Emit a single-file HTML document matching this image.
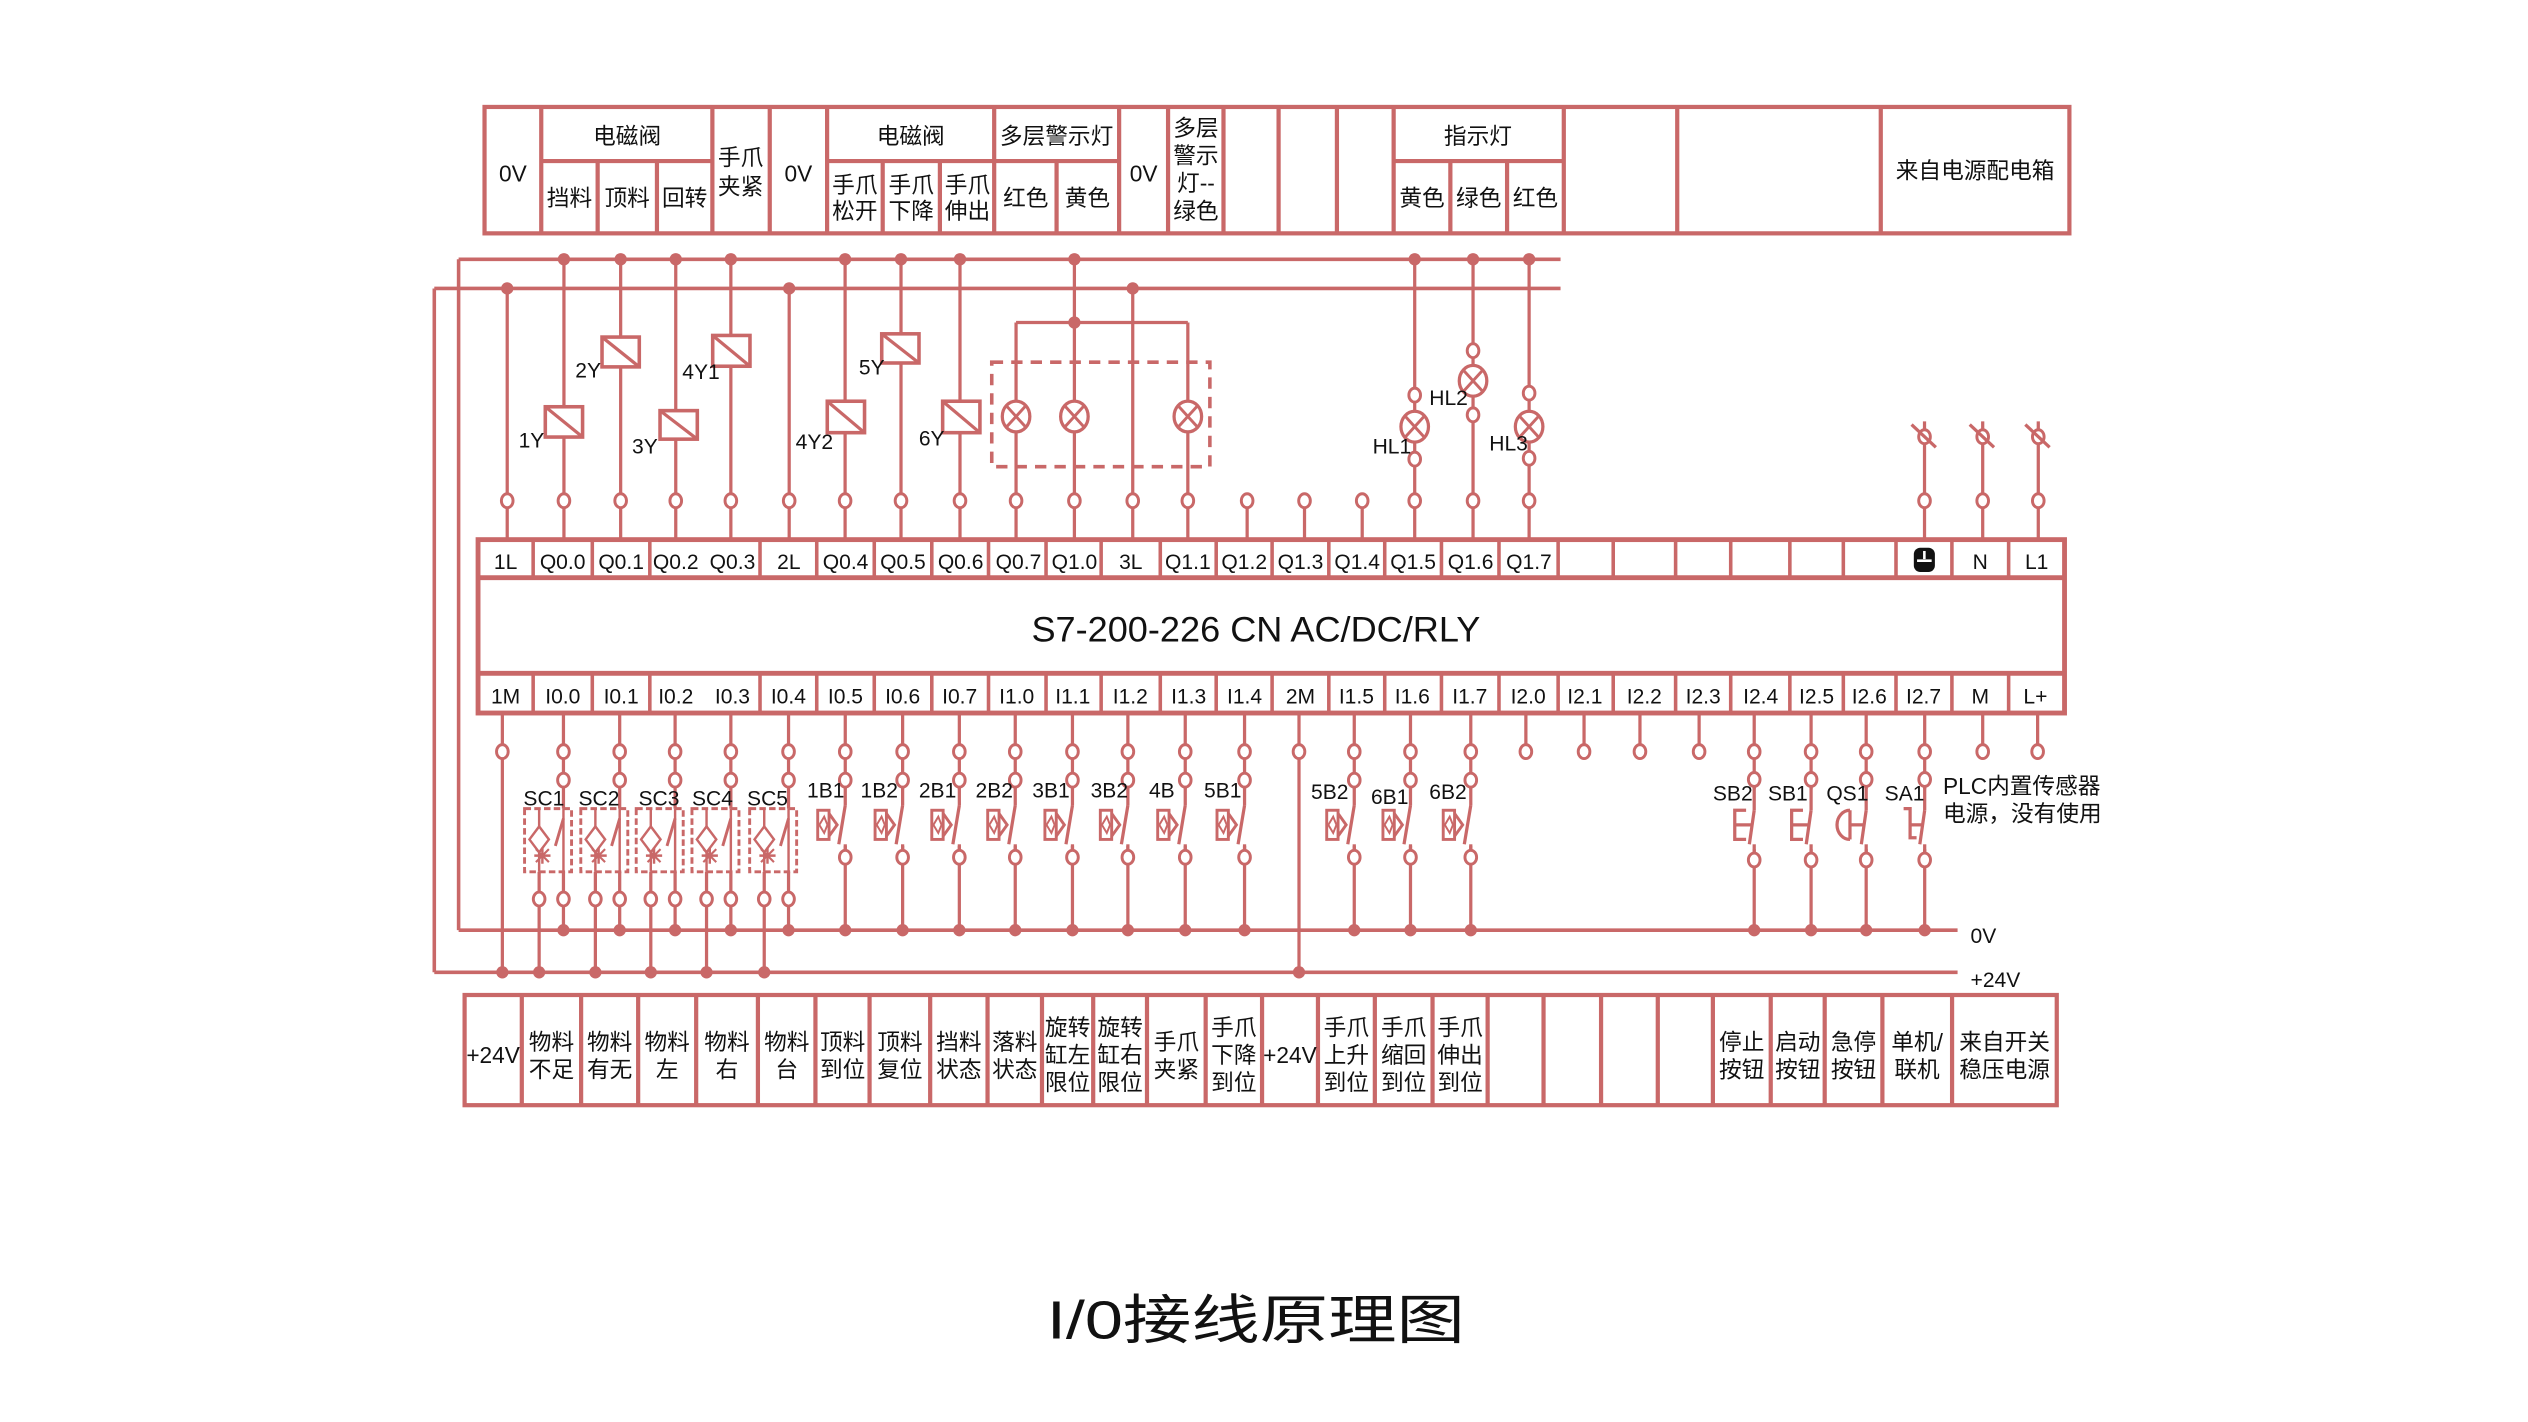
<!DOCTYPE html>
<html><head><meta charset="utf-8"><style>
html,body{margin:0;padding:0;background:#fff;}
svg{display:block;}
text{font-family:"Liberation Sans Narrow","Liberation Sans","Noto Sans CJK SC",sans-serif;fill:#111;}
.cn{font-family:"Liberation Sans Narrow","Liberation Sans","Noto Sans CJK SC",sans-serif;font-size:14px;}
.t{font-size:13px;text-anchor:middle;}
.m{text-anchor:middle;}
.l{font-size:13px;}
</style></head><body>
<svg id="s" width="2528" height="1422" viewBox="0 0 1560 877.5" preserveAspectRatio="none" xmlns="http://www.w3.org/2000/svg">
<g id="g" stroke="#c96868" fill="none" stroke-width="2"></g>
<g id="txt">
<text class="cn m" x="316.5" y="112">0V</text>
<text class="cn m" x="387" y="89">电磁阀</text>
<text class="cn m" x="351.4" y="127">挡料</text>
<text class="cn m" x="387" y="127">顶料</text>
<text class="cn m" x="422.5" y="127">回转</text>
<text class="cn m" x="457" y="102">手爪</text>
<text class="cn m" x="457" y="120">夹紧</text>
<text class="cn m" x="492.7" y="112">0V</text>
<text class="cn m" x="562" y="89">电磁阀</text>
<text class="cn m" x="527.5" y="119">手爪</text>
<text class="cn m" x="527.5" y="135">松开</text>
<text class="cn m" x="562.3" y="119">手爪</text>
<text class="cn m" x="562.3" y="135">下降</text>
<text class="cn m" x="597" y="119">手爪</text>
<text class="cn m" x="597" y="135">伸出</text>
<text class="cn m" x="652" y="89">多层警示灯</text>
<text class="cn m" x="633" y="127">红色</text>
<text class="cn m" x="671" y="127">黄色</text>
<text class="cn m" x="705.7" y="112">0V</text>
<text class="cn m" x="738" y="84">多层</text>
<text class="cn m" x="738" y="101">警示</text>
<text class="cn m" x="738" y="118">灯--</text>
<text class="cn m" x="738" y="135">绿色</text>
<text class="cn m" x="912" y="89">指示灯</text>
<text class="cn m" x="877.5" y="127">黄色</text>
<text class="cn m" x="912.5" y="127">绿色</text>
<text class="cn m" x="947.5" y="127">红色</text>
<text class="cn m" x="1218.8" y="110">来自电源配电箱</text>
<text class="l" x="320" y="276">1Y</text>
<text class="l" x="355" y="233">2Y</text>
<text class="l" x="390" y="280">3Y</text>
<text class="l" x="421" y="234">4Y1</text>
<text class="l" x="491" y="277">4Y2</text>
<text class="l" x="530" y="231">5Y</text>
<text class="l" x="567" y="275">6Y</text>
<text class="l" x="847" y="280">HL1</text>
<text class="l" x="882" y="250">HL2</text>
<text class="l" x="919" y="278">HL3</text>
<text class="t" x="312" y="351">1L</text><text class="t" x="347.2" y="351">Q0.0</text><text class="t" x="383.3" y="351">Q0.1</text><text class="t" x="417" y="351">Q0.2</text><text class="t" x="452" y="351">Q0.3</text><text class="t" x="486.8" y="351">2L</text><text class="t" x="521.8" y="351">Q0.4</text><text class="t" x="557.2" y="351">Q0.5</text><text class="t" x="592.8" y="351">Q0.6</text><text class="t" x="628.5" y="351">Q0.7</text><text class="t" x="663" y="351">Q1.0</text><text class="t" x="697.8" y="351">3L</text><text class="t" x="733" y="351">Q1.1</text><text class="t" x="767.8" y="351">Q1.2</text><text class="t" x="802.5" y="351">Q1.3</text><text class="t" x="837.5" y="351">Q1.4</text><text class="t" x="872" y="351">Q1.5</text><text class="t" x="907.5" y="351">Q1.6</text><text class="t" x="943.5" y="351">Q1.7</text><text class="t" x="1222" y="351">N</text><text class="t" x="1256.8" y="351">L1</text>
<text x="775" y="396" text-anchor="middle" font-size="22" textLength="277" lengthAdjust="spacingAndGlyphs">S7-200-226 CN AC/DC/RLY</text>
<text class="t" x="312" y="434">1M</text><text class="t" x="347.3" y="434">I0.0</text><text class="t" x="383.3" y="434">I0.1</text><text class="t" x="417" y="434">I0.2</text><text class="t" x="452" y="434">I0.3</text><text class="t" x="486.5" y="434">I0.4</text><text class="t" x="521.7" y="434">I0.5</text><text class="t" x="557" y="434">I0.6</text><text class="t" x="592.2" y="434">I0.7</text><text class="t" x="627.4" y="434">I1.0</text><text class="t" x="662" y="434">I1.1</text><text class="t" x="697.5" y="434">I1.2</text><text class="t" x="733.5" y="434">I1.3</text><text class="t" x="768" y="434">I1.4</text><text class="t" x="802.5" y="434">2M</text><text class="t" x="837" y="434">I1.5</text><text class="t" x="871.5" y="434">I1.6</text><text class="t" x="907" y="434">I1.7</text><text class="t" x="943" y="434">I2.0</text><text class="t" x="978" y="434">I2.1</text><text class="t" x="1014.7" y="434">I2.2</text><text class="t" x="1051" y="434">I2.3</text><text class="t" x="1086.5" y="434">I2.4</text><text class="t" x="1121" y="434">I2.5</text><text class="t" x="1153.5" y="434">I2.6</text><text class="t" x="1187" y="434">I2.7</text><text class="t" x="1222" y="434">M</text><text class="t" x="1256" y="434">L+</text>
<text class="l" x="323" y="497">SC1</text><text class="l" x="357" y="497">SC2</text><text class="l" x="394" y="497">SC3</text><text class="l" x="427" y="497">SC4</text><text class="l" x="461" y="497">SC5</text>
<text class="l" x="498" y="492">1B1</text><text class="l" x="531" y="492">1B2</text><text class="l" x="567" y="492">2B1</text><text class="l" x="602" y="492">2B2</text><text class="l" x="637" y="492">3B1</text><text class="l" x="673" y="492">3B2</text><text class="l" x="709" y="492">4B</text><text class="l" x="743" y="492">5B1</text><text class="l" x="809" y="493">5B2</text><text class="l" x="846" y="496">6B1</text><text class="l" x="882" y="493">6B2</text>
<text class="l" x="1057" y="494">SB2</text><text class="l" x="1091" y="494">SB1</text><text class="l" x="1127" y="494">QS1</text><text class="l" x="1163" y="494">SA1</text>
<text class="cn" x="1199" y="490">PLC内置传感器</text>
<text class="cn" x="1199" y="507">电源，没有使用</text>
<text class="l" x="1216" y="582">0V</text>
<text class="l" x="1216" y="609">+24V</text>
<text class="cn m" x="304.3" y="656" font-size="13">+24V</text>
<text class="cn m" x="340.3" y="648">物料</text><text class="cn m" x="340.3" y="665">不足</text>
<text class="cn m" x="376.2" y="648">物料</text><text class="cn m" x="376.2" y="665">有无</text>
<text class="cn m" x="411.7" y="648">物料</text><text class="cn m" x="411.7" y="665">左</text>
<text class="cn m" x="448.6" y="648">物料</text><text class="cn m" x="448.6" y="665">右</text>
<text class="cn m" x="485.5" y="648">物料</text><text class="cn m" x="485.5" y="665">台</text>
<text class="cn m" x="520" y="648">顶料</text><text class="cn m" x="520" y="665">到位</text>
<text class="cn m" x="555.3" y="648">顶料</text><text class="cn m" x="555.3" y="665">复位</text>
<text class="cn m" x="591.7" y="648">挡料</text><text class="cn m" x="591.7" y="665">状态</text>
<text class="cn m" x="626.2" y="648">落料</text><text class="cn m" x="626.2" y="665">状态</text>
<text class="cn m" x="658.8" y="639">旋转</text><text class="cn m" x="658.8" y="656">缸左</text><text class="cn m" x="658.8" y="673">限位</text>
<text class="cn m" x="691.2" y="639">旋转</text><text class="cn m" x="691.2" y="656">缸右</text><text class="cn m" x="691.2" y="673">限位</text>
<text class="cn m" x="725.9" y="648">手爪</text><text class="cn m" x="725.9" y="665">夹紧</text>
<text class="cn m" x="761.4" y="639">手爪</text><text class="cn m" x="761.4" y="656">下降</text><text class="cn m" x="761.4" y="673">到位</text>
<text class="cn m" x="796" y="656" font-size="13">+24V</text>
<text class="cn m" x="830.8" y="639">手爪</text><text class="cn m" x="830.8" y="656">上升</text><text class="cn m" x="830.8" y="673">到位</text>
<text class="cn m" x="866.2" y="639">手爪</text><text class="cn m" x="866.2" y="656">缩回</text><text class="cn m" x="866.2" y="673">到位</text>
<text class="cn m" x="901" y="639">手爪</text><text class="cn m" x="901" y="656">伸出</text><text class="cn m" x="901" y="673">到位</text>
<text class="cn m" x="1074.8" y="648">停止</text><text class="cn m" x="1074.8" y="665">按钮</text>
<text class="cn m" x="1109.4" y="648">启动</text><text class="cn m" x="1109.4" y="665">按钮</text>
<text class="cn m" x="1143.8" y="648">急停</text><text class="cn m" x="1143.8" y="665">按钮</text>
<text class="cn m" x="1183" y="648">单机/</text><text class="cn m" x="1183" y="665">联机</text>
<text class="cn m" x="1237" y="648">来自开关</text><text class="cn m" x="1237" y="665">稳压电源</text>
<text x="775" y="826" text-anchor="middle" font-size="33" fill="#333" textLength="258" lengthAdjust="spacingAndGlyphs" style="font-family:'Liberation Sans','Noto Sans CJK SC',sans-serif">I/0接线原理图</text>
</g>
</svg>
<script>
(function(){
var g=document.getElementById('g'),NS='http://www.w3.org/2000/svg';
function el(n,a){var e=document.createElementNS(NS,n);for(var k in a)e.setAttribute(k,a[k]);g.appendChild(e);return e;}
function L(x1,y1,x2,y2,w){el('line',{x1:x1,y1:y1,x2:x2,y2:y2,'stroke-width':w||2});}
function dot(x,y){el('circle',{cx:x,cy:y,r:3.8,fill:'#c96868',stroke:'none'});}
function oc(x,y){el('ellipse',{cx:x,cy:y,rx:3.6,ry:4.3,fill:'#fff','stroke-width':1.8});}
function R(x,y,w,h,sw,f,da){var a={x:x,y:y,width:w,height:h,'stroke-width':sw||2.5,fill:f||'none'};if(da)a['stroke-dasharray']=da;el('rect',a);}
var TW=2.6;
R(299,66,978,78,TW);
[334,439.6,475,510.4,613.5,690.6,720.8,755,789,825,860,965,1035,1160.6].forEach(function(x){L(x,66,x,144,TW);});
L(334,99.4,439.6,99.4,TW);L(510.4,99.4,690.6,99.4,TW);L(860,99.4,965,99.4,TW);
[368.8,405.4,544.7,580,652,895,930].forEach(function(x){L(x,99.4,x,144,TW);});
L(283,160,963,160,2.2);L(268,178,963,178,2.2);
L(283,160,283,574,2.2);L(268,178,268,600,2.2);
L(283,574,1208,574,2.2);L(268,600,1208,600,2.2);
[313,487,699].forEach(function(x){L(x,178,x,333);dot(x,178);});
[348,383,417,451,521.5,556,592.4,663,873,909,943.6].forEach(function(x){L(x,160,x,333);dot(x,160);});
L(627,199,733,199);dot(663,199);L(627,199,627,333);L(733,199,733,333);
[769.6,805,840.6].forEach(function(x){L(x,309,x,333);});
[1187.6,1223.5,1257.8].forEach(function(x){L(x,260,x,333);});
[313,348,383,417,451,487,521.5,556,592.4,627,663,699,733,769.6,805,840.6,873,909,943.6,1187.6,1223.5,1257.8].forEach(function(x){oc(x,309);});
function coil(cx,y1,y2){var w=23;R(cx-w/2,y1,w,y2-y1,2.2,'#fff');L(cx-w/2,y1,cx+w/2,y2,2);}
coil(348,251,269.7);coil(383,208,226.4);coil(418.8,253.4,271);coil(451.3,207,226);coil(522,247.6,267);coil(555.6,206,224);coil(593.2,247.6,267);
function lamp(x,y){el('ellipse',{cx:x,cy:y,rx:8.5,ry:9.5,fill:'#fff','stroke-width':2});var d=6;L(x-d,y-d*1.1,x+d,y+d*1.1,1.8);L(x-d,y+d*1.1,x+d,y-d*1.1,1.8);}
R(612,223.5,134.6,64.5,2.2,'none','7,5');
lamp(627,257);lamp(663,257);lamp(733,257);
lamp(873,263.3);oc(873,243.8);oc(873,283.3);
lamp(909,235);oc(909,216.4);oc(909,256);
lamp(943.6,263.3);oc(943.6,242.6);oc(943.6,282.8);
[1187.6,1223.5,1257.8].forEach(function(x){oc(x,269.5);L(x-8,262,x+7,276,2);});
R(295,333,979,107,3);L(295,356.5,1274,356.5,3);L(295,415.5,1274,415.5,3);
[329,365.5,401,469,504,539.5,575,610,645.5,679.5,716,750.5,785,820,854.5,889.5,925,961.5,995.5,1034,1068,1104.5,1137.5,1170,1204.5,1239.5].forEach(function(x){L(x,333,x,356.5,2.2);L(x,415.5,x,440,2.2);});
el('rect',{x:1181,y:338,width:13,height:15,rx:4,fill:'#111',stroke:'none'});
el('line',{x1:1183,y1:346,x2:1192,y2:346,stroke:'#fff','stroke-width':1.6});
el('line',{x1:1187.5,y1:340,x2:1187.5,y2:345,stroke:'#fff','stroke-width':1.6});
[941.6,977.5,1012,1048.5,1223.5,1257.4].forEach(function(x){L(x,440,x,460);oc(x,463.8);});
[310,801.6].forEach(function(x){L(x,440,x,600);oc(x,463.8);dot(x,600);});
[347.7,382.4,416.6,451,486.6].forEach(function(s){var l=s-15;
 L(s,440,s,574);oc(s,463.8);oc(s,481.4);dot(s,574);
 L(l,520,l,600);dot(l,600);
 R(l-9,499,s-l+14,39,1.8,'#fff','4,2');
 L(l,499,l,538,1.5);L(s,499,s,538,1.5);
 el('polygon',{points:(l-6)+',518 '+l+',510 '+(l+6)+',518 '+l+',526','stroke-width':1.5,fill:'#fff'});
 L(s,505,s-5,522,1.8);L(l-3,528,l+7,528,1.5);L(l+2,523,l+2,533,1.5);L(l-2,524,l+6,532,1.3);L(l-2,532,l+6,524,1.3);
 oc(l,554.8);oc(s,554.8);});
function bsw(x){L(x,440,x,574);oc(x,463.8);oc(x,481.4);dot(x,574);
 el('rect',{x:x-2,y:487,width:4,height:35,fill:'#fff',stroke:'none'});
 L(x,486,x,497);L(x,497,x-4,521);L(x,521,x,525);
 R(x-17,500,7,18,1.8,'#fff');
 el('polyline',{points:(x-10)+',502 '+(x-5)+',509 '+(x-10)+',516','stroke-width':1.8});
 el('polygon',{points:(x-16)+',509 '+(x-13)+',504 '+(x-11)+',509 '+(x-13)+',514','stroke-width':1.2,fill:'none'});
 oc(x,529);}
[521.6,557,592,626.5,661.8,696,731.4,768,835.7,870.4,907.6].forEach(bsw);
function btn(x,type){L(x,440,x,574);oc(x,463.8);oc(x,481);dot(x,574);
 el('rect',{x:x-2,y:487,width:4,height:37,fill:'#fff',stroke:'none'});
 L(x,486,x,500);L(x,500,x-3,521);L(x,521,x,526);
 if(type==0){el('polyline',{points:(x-5)+',500 '+(x-12)+',500 '+(x-12)+',518 '+(x-5)+',518','stroke-width':2});L(x-12,509,x-2,509,2);}
 else if(type==1){el('path',{d:'M'+(x-10)+',500 A8,9 0 0 0 '+(x-10)+',518','stroke-width':2});L(x-10,500,x-10,518,2);L(x-10,509,x-2,509,2);}
 else {el('polyline',{points:(x-13)+',499 '+(x-9)+',499 '+(x-9)+',517 '+(x-5)+',517','stroke-width':2});L(x-9,509,x-2,509,2);}
 oc(x,530.7);}
btn(1082.5,0);btn(1117.6,0);btn(1151.6,1);btn(1187.7,2);
R(286.7,614,982.5,68,TW);
[322,358.6,393.8,429.6,467.7,503.2,536.6,574,609.4,643,674.6,707.8,744,778.8,813.3,848.4,884,918,952.5,988,1023,1057,1092.7,1126,1161.6,1204.6].forEach(function(x){L(x,614,x,682,TW);});
})();
</script>
</body></html>
